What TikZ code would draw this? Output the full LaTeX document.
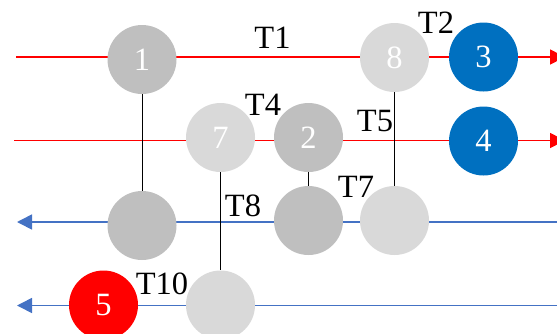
\documentclass[tikz,border=0pt]{standalone}
\usepackage{fontspec}
\setmainfont{Liberation Serif}
\usetikzlibrary{arrows.meta}
\definecolor{dgray}{HTML}{BFBFBF}
\definecolor{lgray}{HTML}{D9D9D9}
\definecolor{myblue}{HTML}{0070C0}
\definecolor{lineblue}{HTML}{4472C4}
\definecolor{myred}{HTML}{FF0000}
\tikzset{
  ball/.style={circle, minimum size=69pt, inner sep=0pt, text=white, font=\fontsize{32.5}{32.5}\selectfont},
  dball/.style={ball, fill=dgray},
  lball/.style={ball, fill=lgray},
  bball/.style={ball, fill=myblue},
  rball/.style={ball, fill=myred},
  lab/.style={inner sep=0pt, font=\fontsize{32.5}{32.5}\selectfont},
  redline/.style={draw=myred, line width=1.6pt, -{Triangle[length=15pt,width=15pt]}},
  blueline/.style={draw=lineblue, line width=1.6pt, -{Triangle[length=15pt,width=15pt]}},
  conn/.style={draw=black, line width=1pt}
}
\begin{document}
\begin{tikzpicture}[x=1pt,y=-1pt]
\useasboundingbox (0,0) rectangle (557,333);
% line ends
\coordinate (r1s) at (16,57);
\coordinate (r1e) at (565,57);
\coordinate (r2s) at (14,140.5);
\coordinate (r2e) at (565,140.5);
\coordinate (r3s) at (557,222);
\coordinate (r3e) at (17,222);
\coordinate (r4s) at (557,305.5);
\coordinate (r4e) at (17,305.5);
\draw[redline] (r1s) -- (r1e);
\draw[redline] (r2s) -- (r2e);
\draw[blueline] (r3s) -- (r3e);
\draw[blueline] (r4s) -- (r4e);
% circles
\node[dball] (c1) at (142,59.5) {1};
\node[lball] (c8) at (394.5,57.5) {8};
\node[bball] (c3) at (483.5,57) {3};
\node[lball] (c7) at (220.5,137.5) {7};
\node[dball] (c2) at (308.5,137.5) {2};
\node[bball] (c4) at (483.5,141) {4};
\node[dball] (c9) at (142,225.5) {};
\node[dball] (c10) at (308.5,220.5) {};
\node[lball] (c11) at (394.5,220.5) {};
\node[rball] (c5) at (103.5,305) {5};
\node[lball] (c12) at (220.5,305) {};
% vertical connectors
\draw[conn] (c1) -- (c9);
\draw[conn] (c7) -- (c12);
\draw[conn] (c2) -- (c10);
\draw[conn] (c8) -- (c11);
% labels
\node[lab] (t1) at (272.5,37.5) {T1};
\node[lab] (t2) at (436,23) {T2};
\node[lab] (t4) at (263,105) {T4};
\node[lab] (t5) at (375,121) {T5};
\node[lab] (t7) at (356,187) {T7};
\node[lab] (t8) at (243,206) {T8};
\node[lab] (t10) at (162,284) {T10};
\end{tikzpicture}
\end{document}
